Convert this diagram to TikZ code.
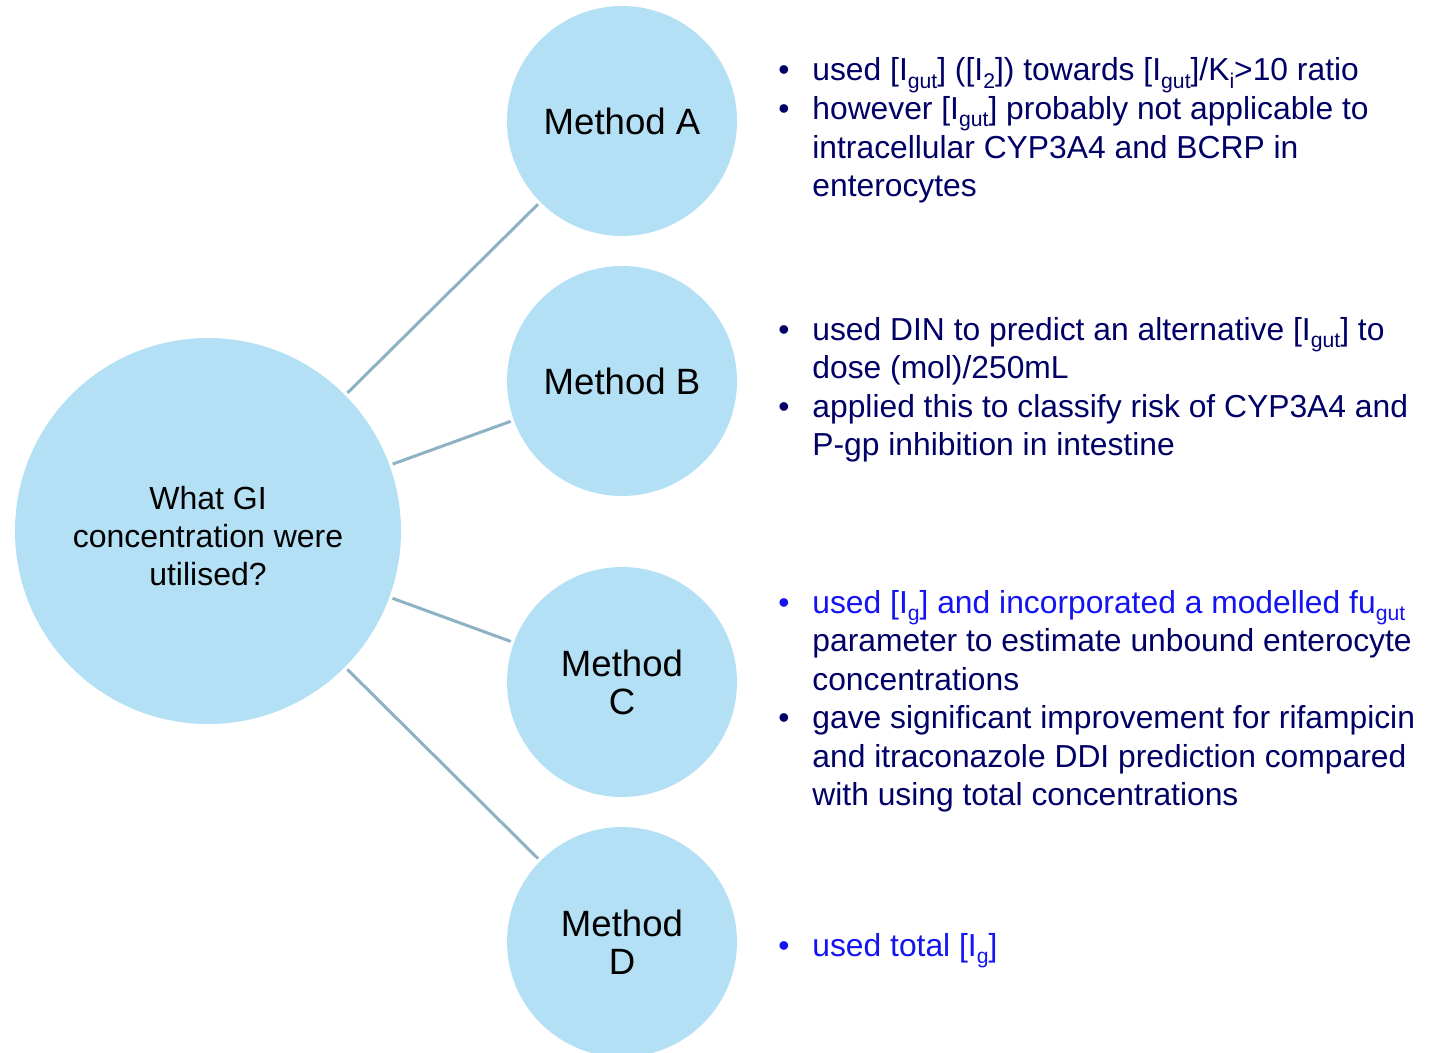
\documentclass[tikz,border=0pt]{standalone}
\usepackage{fontspec}
\setmainfont{Liberation Sans}
\usepackage{tikz}
\usetikzlibrary{positioning}
\definecolor{gicircle}{RGB}{180,224,245}
\definecolor{giline}{RGB}{140,178,196}
\definecolor{ginavy}{RGB}{0,0,102}
\definecolor{giblue}{RGB}{20,20,240}
\newcommand{\gisub}[1]{\raisebox{-3.6pt}{\fontsize{10.6}{12}\selectfont #1}}
\tikzset{
  bigcircle/.style={circle, fill=gicircle, minimum size=193pt, inner sep=0pt,
    align=center, font=\fontsize{16}{19}\selectfont},
  methodcircle/.style={circle, fill=gicircle, minimum size=115pt, inner sep=0pt,
    align=center, font=\fontsize{18.3}{19}\selectfont},
  link/.style={giline, line width=1.5pt, shorten <=1.5pt, shorten >=1.5pt},
  notes/.style={anchor=base west, inner sep=0pt, text=ginavy,
    font=\fontsize{15.9}{19.25}\selectfont},
}

\begin{document}
\begin{tikzpicture}[x=50pt, y=50pt]
\useasboundingbox (0,0) rectangle (14.38,10.52);

% Centre question
\node[bigcircle] (gi) at (2.08,5.21) {\rule{0pt}{16.6pt}What GI\\concentration were\\utilised?};

% Methods
\node[methodcircle] (ma) at (6.22,9.31) {Method A};
\node[methodcircle] (mb) at (6.22,6.71) {Method B};
\node[methodcircle] (mc) at (6.22,3.70) {Method\\C};
\node[methodcircle] (md) at (6.22,1.10) {Method\\D};

\draw[link] (gi) -- (ma);
\draw[link] (gi) -- (mb);
\draw[link] (gi) -- (mc);
\draw[link] (gi) -- (md);

% Notes
\node[notes] (na) at (7.78,9.71) {\begin{tabular}[t]{@{}p{17pt}@{}l@{}}
\textbullet & used [I\gisub{gut}] ([I\gisub{2}]) towards [I\gisub{gut}]/K\gisub{i}>10 ratio\\
\textbullet & however [I\gisub{gut}] probably not applicable to\\
 & intracellular CYP3A4 and BCRP in\\
 & enterocytes
\end{tabular}};

\node[notes] (nb) at (7.78,7.12) {\begin{tabular}[t]{@{}p{17pt}@{}l@{}}
\textbullet & used DIN to predict an alternative [I\gisub{gut}] to\\
 & dose (mol)/250mL\\
\textbullet & applied this to classify risk of CYP3A4 and\\
 & P-gp inhibition in intestine
\end{tabular}};

\node[notes] (nc) at (7.78,4.39) {\begin{tabular}[t]{@{}p{17pt}@{}l@{}}
\textcolor{giblue}{\textbullet} & \textcolor{giblue}{used [I\gisub{g}] and incorporated a modelled fu\gisub{gut}}\\
 & parameter to estimate unbound enterocyte\\
 & concentrations\\
\textbullet & gave significant improvement for rifampicin\\
 & and itraconazole DDI prediction compared\\
 & with using total concentrations
\end{tabular}};

\node[notes, text=giblue] (nd) at (7.78,0.96) {\begin{tabular}[t]{@{}p{17pt}@{}l@{}}
\textbullet & used total [I\gisub{g}]
\end{tabular}};
\end{tikzpicture}
\end{document}
